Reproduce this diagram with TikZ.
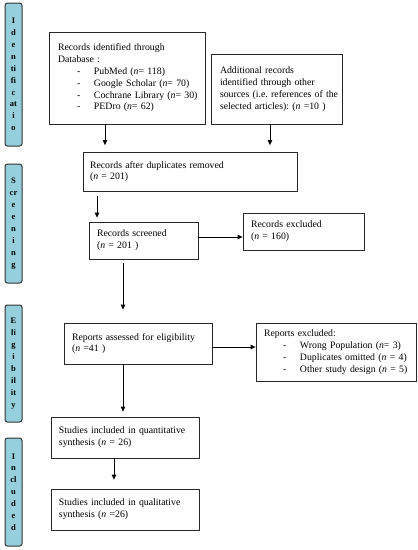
\documentclass[tikz,border=0pt]{standalone}
\usepackage{fontspec}
\setmainfont{Liberation Serif}
\usetikzlibrary{arrows.meta}
\definecolor{barblue}{RGB}{149,207,220}
\definecolor{linegray}{RGB}{40,40,40}
\newcommand{\itm}[1]{\mbox{\hspace*{19pt}\makebox[17pt][l]{-}#1}}
\frenchspacing
\begin{document}
\begin{tikzpicture}[x=1pt,y=-1pt,
  box/.style={draw=linegray, line width=0.8pt, align=left, inner xsep=0pt, inner ysep=0pt,
    font=\fontsize{9.8}{11.8}\selectfont},
  bar/.style={draw=black!80, fill=barblue, line width=1pt, rounded corners=2.5pt,
    minimum width=17pt, align=center, inner sep=0pt,
    font=\bfseries\fontsize{8.5}{11.9}\selectfont},
  arr/.style={draw=black, line width=0.8pt, -{Triangle[length=5pt,width=4.5pt]}}]
\useasboundingbox (0,0) rectangle (418,550);

% side bars
\node[bar, minimum height=143pt] (bid) at (13.5,74.5) {I\\d\\e\\n\\ti\\fi\\c\\at\\i\\o};
\node[bar, minimum height=119pt] (bsc) at (13.5,223.5) {S\\cr\\e\\e\\n\\i\\n\\g};
\node[bar, minimum height=117pt] (bel) at (13.5,363.5) {E\\li\\g\\i\\b\\il\\it\\y};
\node[bar, minimum height=108pt] (bin) at (13.5,492) {I\\n\\cl\\u\\d\\e\\d};

% boxes
\node[box, minimum width=156pt, minimum height=92pt, text width=138pt] (db) at (127,78)
  {\mbox{Records identified through}\\Database :\\
   \itm{PubMed (\textit{n}= 118)}\\
   \itm{Google Scholar (\textit{n}= 70)}\\
   \itm{Cochrane Library (\textit{n}= 30)}\\
   \itm{PEDro (\textit{n}= 62)}};
\node[box, minimum width=131pt, minimum height=70pt, text width=113pt] (add) at (276.5,89)
  {\mbox{Additional records}\\\mbox{identified through other}\\
   \mbox{sources (i.e. references of the}\\\mbox{selected articles): (\textit{n} =10 )}};
\node[box, minimum width=214pt, minimum height=39pt, text width=200pt] (dup) at (190,171.5)
  {Records after duplicates removed\\(\textit{n} = 201)};
\node[box, minimum width=109pt, minimum height=37pt, text width=93pt] (scr) at (143.5,240.5)
  {\mbox{Records screened}\\(\textit{n} = 201 )};
\node[box, minimum width=121pt, minimum height=37pt, text width=105pt] (exc) at (303.5,231.5)
  {\mbox{Records excluded}\\(\textit{n} = 160)};
\node[box, minimum width=148pt, minimum height=41pt, text width=132pt] (ass) at (138,343.5)
  {\mbox{Reports assessed for eligibility}\\(\textit{n} =41 )};
\node[box, minimum width=160pt, minimum height=58pt, text width=144pt] (rex) at (336,352)
  {Reports excluded:\\
   \itm{Wrong Population (\textit{n}= 3)}\\
   \itm{Duplicates omitted (\textit{n} = 4)}\\
   \itm{Other study design (\textit{n} = 5)}};
\node[box, minimum width=148pt, minimum height=41pt, text width=132pt] (qn) at (125,437.5)
  {\mbox{Studies included in quantitative}\\synthesis (\textit{n} = 26)};
\node[box, minimum width=148pt, minimum height=41pt, text width=132pt] (ql) at (125,509.5)
  {\mbox{Studies included in qualitative}\\synthesis (\textit{n} =26)};

% arrows
\draw[arr, shorten >=6.5pt] (db.south -| 105,0) -- (dup.north -| 105,0);
\draw[arr, shorten >=6.5pt] (add.south -| 270,0) -- (dup.north -| 270,0);
\draw[arr, shorten <=5pt, shorten >=4pt] (dup.south -| 97,0) -- (scr.north -| 97,0);
\draw[arr] (scr.east |- 0,237) -- (exc.west |- 0,237);
\draw[arr, shorten <=4pt, shorten >=13pt] (scr.south -| 123,0) -- (ass.north -| 123,0);
\draw[arr] (ass.east |- 0,347) -- (rex.west |- 0,347);
\draw[arr, shorten >=5pt] (ass.south -| 123,0) -- (qn.north -| 123,0);
\draw[arr, shorten >=9pt] (qn.south -| 114,0) -- (ql.north -| 114,0);
\end{tikzpicture}
\end{document}
